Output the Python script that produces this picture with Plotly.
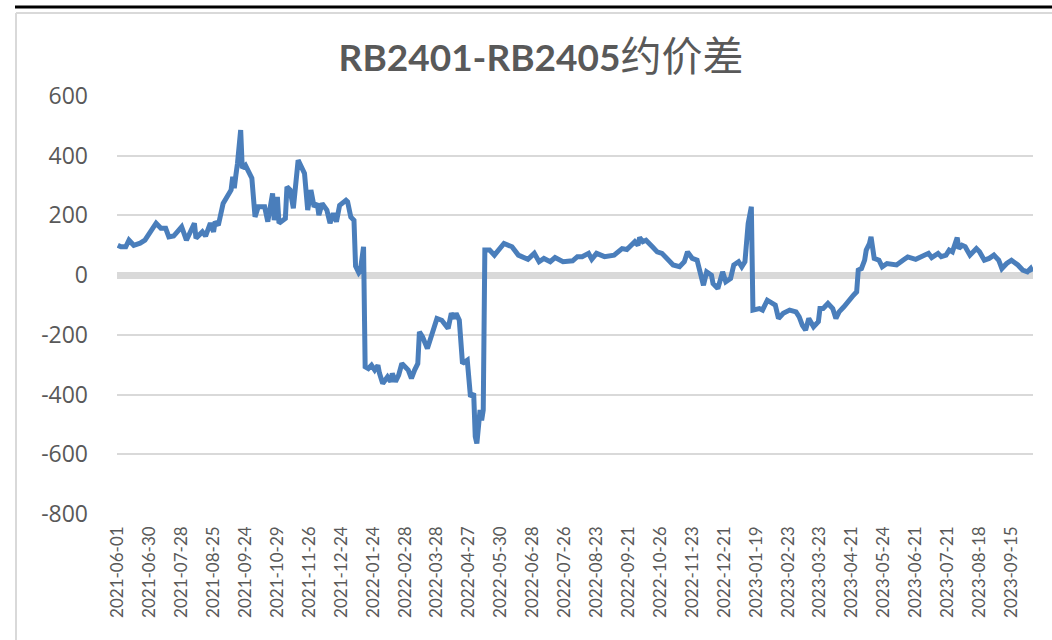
import plotly.graph_objects as go

day_index = [0, 2, 5, 7, 10, 14, 17, 20, 24, 27, 30, 32, 35, 40, 43, 48, 49, 53, 55, 58,
             60, 61, 63, 66, 69, 70, 71, 72, 73, 74, 75, 77, 78, 80, 82, 84, 86, 88, 92, 94,
             97, 98, 100, 101, 105, 106, 108, 110, 113, 117, 119, 121, 123, 125, 126, 128, 131, 133, 135, 137,
             139, 143, 144, 146, 148, 149, 151, 152, 154, 155, 157, 159, 161, 163, 164, 166, 169, 171, 172, 174,
             176, 178, 182, 184, 186, 188, 189, 191, 194, 196, 198, 200, 203, 207, 209, 211, 212, 214, 216, 219,
             221, 223, 224, 225, 227, 228, 229, 230, 233, 236, 239, 242, 247, 251, 257, 261, 264, 267, 271, 274,
             279, 285, 288, 291, 295, 297, 300, 305, 311, 313, 316, 319, 324, 326, 327, 329, 331, 335, 338, 341,
             344, 348, 352, 355, 357, 360, 363, 365, 367, 369, 372, 373, 376, 379, 381, 384, 386, 389, 391, 393,
             394, 395, 397, 398, 402, 404, 407, 412, 414, 417, 421, 425, 427, 429, 431, 433, 436, 439, 440, 442,
             445, 448, 450, 452, 455, 458, 461, 463, 464, 466, 468, 469, 471, 472, 474, 477, 479, 482, 488, 492,
             495, 500, 503, 508, 510, 514, 516, 519, 521, 523, 526, 527, 529, 531, 534, 538, 540, 543, 546, 549,
             552, 554, 557, 560, 564, 567, 570, 572, 573]

spread = [100, 95, 95, 117, 100, 107, 117, 140, 174, 157, 157, 128, 131, 162, 117, 174, 124, 145, 131, 174,
          145, 179, 167, 240, 268, 279, 285, 329, 291, 335, 374, 486, 358, 368, 346, 325, 195, 229, 229, 179,
          274, 184, 262, 174, 190, 296, 285, 224, 385, 341, 218, 285, 229, 240, 201, 240, 218, 174, 207, 179,
          234, 251, 246, 195, 184, 30, 8, 15, 95, -307, -313, -302, -318, -302, -329, -363, -341, -357, -329, -357,
          -335, -296, -318, -346, -318, -296, -190, -207, -246, -218, -179, -145, -151, -179, -128, -145, -128, -151, -296, -285,
          -407, -396, -541, -564, -452, -486, -452, 84, 84, 67, 89, 106, 95, 67, 53, 73, 45, 56, 45, 59,
          45, 48, 62, 62, 73, 53, 73, 62, 67, 78, 89, 86, 112, 100, 126, 112, 117, 95, 78, 73,
          56, 34, 28, 45, 78, 56, 50, 6, -34, 11, 0, -28, -45, 11, -22, -11, 34, 45, 28, 45,
          145, 173, 229, -117, -112, -117, -84, -100, -145, -128, -117, -123, -140, -168, -184, -145, -173, -156, -112, -112,
          -95, -112, -145, -123, -106, -84, -67, -56, 17, 22, 50, 84, 106, 128, 56, 50, 28, 39, 34, 50,
          61, 53, 62, 73, 59, 73, 62, 67, 84, 78, 126, 89, 100, 95, 67, 89, 78, 50, 56, 67,
          50, 22, 39, 50, 34, 17, 11, 22, 11]

tick_labels = ["2021-06-01", "2021-06-30", "2021-07-28", "2021-08-25", "2021-09-24", "2021-10-29",
               "2021-11-26", "2021-12-24", "2022-01-24", "2022-02-28", "2022-03-28", "2022-04-27",
               "2022-05-30", "2022-06-28", "2022-07-26", "2022-08-23", "2022-09-21", "2022-10-26",
               "2022-11-23", "2022-12-21", "2023-01-19", "2023-02-23", "2023-03-23", "2023-04-21",
               "2023-05-24", "2023-06-21", "2023-07-21", "2023-08-18", "2023-09-15"]
tick_positions = [i * 20 for i in range(len(tick_labels))]

y_ticks = [600, 400, 200, 0, -200, -400, -600, -800]
y_tick_text = ["600", "400", "200", "0", "-200", "-400", "-600", "-800"]

title_text = "<b>RB2401-RB2405</b><span style='font-size:41px'>约价差</span>"

fig = go.Figure()
fig.add_trace(go.Scatter(
    x=day_index, y=spread, mode="lines",
    line=dict(color="#4a7ebb", width=5),
    hoverinfo="x+y", showlegend=False,
))

# paper-coordinate helpers for the frame (plot area: x 117..1033 px, y 96..514 px)
def px_x(p):
    return (p - 117) / 916.0

def px_y(p):
    return (514 - p) / 418.0

fig.update_layout(
    width=1052, height=640,
    margin=dict(l=117, r=19, t=96, b=126, autoexpand=False),
    paper_bgcolor="white", plot_bgcolor="white",
    font=dict(family="Lato, 'Noto Sans CJK SC', sans-serif", color="#595959"),
    title=dict(text=title_text, x=541 / 1052, xanchor="center", xref="container",
               y=1 - 58 / 640, yanchor="middle", yref="container", automargin=False,
               font=dict(size=37, color="#595959", family="Lato, 'Noto Sans CJK SC', sans-serif")),
    xaxis=dict(range=[-0.5, 573.5], tickmode="array", tickvals=tick_positions, ticktext=tick_labels,
               tickangle=-90, showgrid=False, zeroline=False, showline=False, ticks="",
               automargin=False,
               tickfont=dict(size=17, color="#595959", family="Lato, sans-serif"),
               ticklabelstandoff=8),
    yaxis=dict(range=[-800, 600], tickmode="array", tickvals=y_ticks, ticktext=y_tick_text,
               showgrid=True, gridcolor="#d9d9d9", gridwidth=1.5, automargin=False,
               zeroline=True, zerolinecolor="#d9d9d9", zerolinewidth=7, showline=False, ticks="",
               tickfont=dict(size=23, color="#595959", family="'Open Sans', sans-serif"),
               ticklabelstandoff=28),
    shapes=[
        dict(type="line", xref="paper", yref="paper", x0=px_x(15), x1=px_x(1060), y0=px_y(7), y1=px_y(7),
             line=dict(color="#000000", width=3)),
        dict(type="line", xref="paper", yref="paper", x0=px_x(16), x1=px_x(1060), y0=px_y(13), y1=px_y(13),
             line=dict(color="#d9d9d9", width=2)),
        dict(type="line", xref="paper", yref="paper", x0=px_x(16), x1=px_x(16), y0=px_y(13), y1=px_y(660),
             line=dict(color="#d9d9d9", width=2)),
    ],
)

fig.write_html("out.html", config={"displayModeBar": False},
               post_script="document.body.style.margin='0';document.body.style.overflow='hidden';")
